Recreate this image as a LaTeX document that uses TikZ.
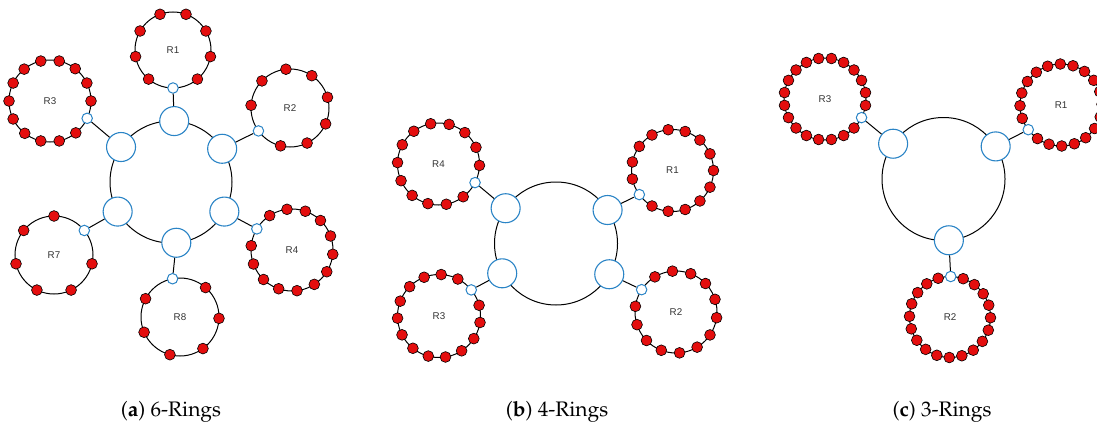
\documentclass[tikz,border=0pt]{standalone}
\usepackage{fontspec}
\newfontfamily\labelfont{Liberation Sans}
\newcommand\capfont{\fontencoding{OT1}\fontfamily{ppl}\fontsize{21}{24}\selectfont}
\definecolor{dotred}{RGB}{228,14,14}
\definecolor{portblue}{RGB}{42,132,198}
\tikzset{
  ringline/.style={draw=black, line width=1pt, circle, inner sep=0pt, outer sep=0pt},
  sat/.style={ringline, font=\labelfont\fontsize{9.8}{11}\selectfont, text=black!80},
  dot/.style={circle, draw=black, fill=dotred, line width=0.6pt, minimum size=10.8pt, inner sep=0pt},
  port/.style={circle, draw=portblue, fill=white, line width=1pt, minimum size=10.5pt, inner sep=0pt},
  hub/.style={circle, draw=portblue, fill=white, line width=1.1pt, minimum size=29pt, inner sep=0pt},
  link/.style={draw=black, line width=1pt},
  caption/.style={font=\capfont, anchor=base, inner sep=0pt},
}
% name, x, y, radius, positions, port angle, label
\newcommand\satring[7]{%
  \node[sat, minimum size=#4*2pt] (#1) at (#2,#3) {#7};
  \node[port] (#1p) at (#1.#6) {};
  \pgfmathsetmacro\stepang{360/#5}%
  \pgfmathtruncatemacro\lastk{#5-1}%
  \foreach \k in {1,...,\lastk}{%
    \pgfmathsetmacro\aa{mod(#6+\k*\stepang,360)}%
    \node[dot] at (#1.\aa) {};
  }%
}
\begin{document}
\begin{tikzpicture}[x=1pt,y=-1pt]
\useasboundingbox (0,0) rectangle (1097,423);
\clip (0,0) rectangle (1097,423);
% ---------- (a) 6 rings ----------
\node[ringline, minimum size=122pt] (aM) at (171,182) {};
\node[hub] (aH1) at (aM.87) {};
\node[hub] (aH2) at (aM.33) {};
\node[hub] (aH4) at (aM.331) {};
\node[hub] (aH8) at (aM.275) {};
\node[hub] (aH7) at (aM.209) {};
\node[hub] (aH3) at (aM.145) {};
\satring{aR1}{173}{50}{38}{9}{270}{R1}
\satring{aR2}{290}{108}{39}{9}{216}{R2}
\satring{aR3}{50}{101}{41}{14}{335}{R3}
\satring{aR4}{292}{250}{41}{14}{149}{R4}
\satring{aR7}{54}{255}{39}{7}{39}{R7}
\satring{aR8}{180}{317}{39}{7}{101}{R8}
\draw[link] (aH1) -- (aR1p);
\draw[link] (aH2) -- (aR2p);
\draw[link] (aH3) -- (aR3p);
\draw[link] (aH4) -- (aR4p);
\draw[link] (aH7) -- (aR7p);
\draw[link] (aH8) -- (aR8p);
\node[caption] (capa) at (171,416) {(\textbf{a}) 6-Rings};
% ---------- (b) 4 rings ----------
\node[ringline, minimum size=123pt] (bM) at (556,243.5) {};
\node[hub] (bH4) at (bM.145) {};
\node[hub] (bH1) at (bM.33) {};
\node[hub] (bH3) at (bM.209) {};
\node[hub] (bH2) at (bM.330) {};
\satring{bR4}{438.5}{164}{41}{14}{333}{R4}
\satring{bR1}{672.5}{170.5}{41}{15}{216}{R1}
\satring{bR3}{439}{316}{41.5}{15}{39}{R3}
\satring{bR2}{676}{312}{41}{14}{147}{R2}
\draw[link] (bH4) -- (bR4p);
\draw[link] (bH1) -- (bR1p);
\draw[link] (bH3) -- (bR3p);
\draw[link] (bH2) -- (bR2p);
\node[caption] (capb) at (557,416) {(\textbf{b}) 4-Rings};
% ---------- (c) 3 rings ----------
\node[ringline, minimum size=123pt] (cM) at (943.5,179) {};
\node[hub] (cH3) at (cM.145) {};
\node[hub] (cH1) at (cM.32) {};
\node[hub] (cH2) at (cM.275) {};
\satring{cR3}{825}{99}{41}{20}{333}{R3}
\satring{cR1}{1061}{105}{41}{20}{217}{R1}
\satring{cR2}{950}{317}{40.5}{20}{89}{R2}
\draw[link] (cH3) -- (cR3p);
\draw[link] (cH1) -- (cR1p);
\draw[link] (cH2) -- (cR2p);
\node[caption] (capc) at (942,416) {(\textbf{c}) 3-Rings};
\end{tikzpicture}
\end{document}
